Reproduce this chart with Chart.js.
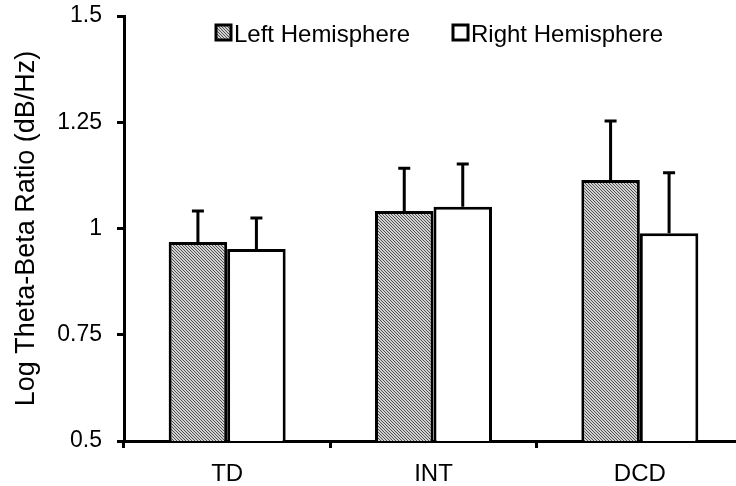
<!DOCTYPE html>
<html lang="en">
<head>
  <meta charset="UTF-8" />
  <title>Log Theta-Beta Ratio</title>
  <script src="https://cdn.jsdelivr.net/npm/chart.js"></script>
  <style>
    html, body { margin: 0; padding: 0; background: #fff; overflow: hidden; }
    #wrap { width: 743px; height: 486px; }
  </style>
</head>
<body>
  <div id="wrap"><canvas id="chart"></canvas></div>

  <script>
    const groups = ['TD', 'INT', 'DCD'];
    const leftValues = [0.968, 1.041, 1.114];
    const rightValues = [0.952, 1.051, 0.989];
    const leftErrors = [0.073, 0.101, 0.139];
    const rightErrors = [0.073, 0.101, 0.142];
    const yTicks = [0.5, 0.75, 1, 1.25, 1.5];

    const FONT = '"Liberation Sans", Arial, sans-serif';

    // fine diagonal hatch (3px period) for the left hemisphere bars
    function makeHatch() {
      const c = document.createElement('canvas');
      c.width = 3; c.height = 3;
      const g = c.getContext('2d');
      const img = g.createImageData(3, 3);
      for (let yy = 0; yy < 3; yy++) {
        for (let xx = 0; xx < 3; xx++) {
          const k = (yy * 3 + xx) * 4;
          const v = xx === yy ? 80 : 210;
          img.data[k] = img.data[k + 1] = img.data[k + 2] = v;
          img.data[k + 3] = 255;
        }
      }
      g.putImageData(img, 0, 0);
      return g.createPattern(c, 'repeat');
    }
    const hatch = makeHatch();

    const errorBars = {
      id: 'errorBars',
      afterDatasetsDraw(chart) {
        const { ctx, scales: { y } } = chart;
        ctx.save();
        ctx.strokeStyle = '#000';
        ctx.lineWidth = 3;
        chart.data.datasets.forEach((ds, i) => {
          chart.getDatasetMeta(i).data.forEach((bar, j) => {
            const top = y.getPixelForValue(ds.data[j] + ds.errors[j]);
            ctx.beginPath();
            ctx.moveTo(bar.x, bar.y);
            ctx.lineTo(bar.x, top);
            ctx.moveTo(bar.x - 6, top);
            ctx.lineTo(bar.x + 6, top);
            ctx.stroke();
          });
        });
        ctx.restore();
      }
    };

    const topLegend = {
      id: 'topLegend',
      afterDraw(chart) {
        const { ctx } = chart;
        const items = [
          { x: 216, label: chart.data.datasets[0].label, fill: hatch },
          { x: 453, label: chart.data.datasets[1].label, fill: '#fff' }
        ];
        ctx.save();
        ctx.font = '24px ' + FONT;
        ctx.textBaseline = 'middle';
        items.forEach(it => {
          ctx.fillStyle = it.fill;
          ctx.fillRect(it.x, 25, 15, 15);
          ctx.strokeStyle = '#000';
          ctx.lineWidth = 3;
          ctx.strokeRect(it.x, 25, 15, 15);
          ctx.fillStyle = '#000';
          ctx.fillText(it.label, it.x + 18, 35);
        });
        ctx.restore();
      }
    };

    new Chart(document.getElementById('chart'), {
      type: 'bar',
      data: {
        labels: groups,
        datasets: [
          {
            label: 'Left Hemisphere',
            data: leftValues,
            errors: leftErrors,
            backgroundColor: hatch,
            borderColor: '#000',
            borderWidth: 3,
            borderSkipped: 'bottom'
          },
          {
            label: 'Right Hemisphere',
            data: rightValues,
            errors: rightErrors,
            backgroundColor: '#fff',
            borderColor: '#000',
            borderWidth: 3,
            borderSkipped: 'bottom'
          }
        ]
      },
      options: {
        responsive: true,
        maintainAspectRatio: false,
        animation: false,
        layout: { padding: { top: 16, right: 0, bottom: 0, left: 0 } },
        datasets: { bar: { categoryPercentage: 0.567, barPercentage: 1 } },
        scales: {
          x: {
            afterFit: axis => { axis.height = 45; axis.paddingLeft = 0; axis.paddingRight = 0; },
            grid: { display: true, drawOnChartArea: false, drawTicks: true, tickLength: 7, color: '#000', lineWidth: 3 },
            border: { display: true, color: '#000', width: 3 },
            ticks: { color: '#000', font: { family: FONT, size: 24 }, padding: 12 }
          },
          y: {
            min: 0.5,
            max: 1.5,
            afterBuildTicks: axis => { axis.ticks = yTicks.map(v => ({ value: v })); },
            afterFit: axis => { axis.width = 124; axis.paddingTop = 0; axis.paddingBottom = 0; },
            grid: { drawOnChartArea: false, drawTicks: true, tickLength: 7, color: '#000', lineWidth: 3 },
            border: { display: true, color: '#000', width: 3 },
            ticks: { color: '#000', font: { family: FONT, size: 23 }, padding: 15, callback: v => String(v) },
            title: {
              display: true,
              text: 'Log Theta-Beta Ratio (dB/Hz)',
              color: '#000',
              font: { family: FONT, size: 27 },
              padding: { top: 10, bottom: 0 }
            }
          }
        },
        plugins: {
          legend: { display: false },
          tooltip: { enabled: false }
        }
      },
      plugins: [errorBars, topLegend]
    });
  </script>
</body>
</html>
